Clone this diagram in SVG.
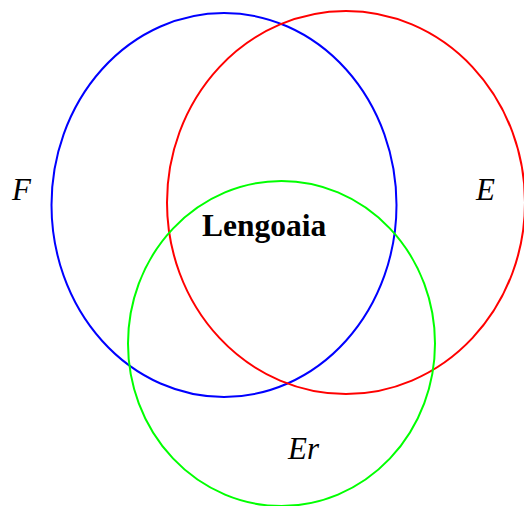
<svg xmlns="http://www.w3.org/2000/svg" width="524" height="506" viewBox="0 0 524 506">
<style>
.set{fill:none;stroke-width:2}
.lbl{font-family:"Liberation Serif","Times New Roman",serif;font-style:italic;font-size:31px;fill:#000}
.ctr{font-family:"Liberation Serif","Times New Roman",serif;font-weight:bold;font-size:31.5px;fill:#000}
</style>
<rect width="524" height="506" fill="#fff"/>
<g id="set-F">
<ellipse class="set" cx="224" cy="205" rx="172.5" ry="192" stroke="#0000ff"/>
<text class="lbl" x="12" y="200">F</text>
</g>
<g id="set-E">
<ellipse class="set" cx="346" cy="202.5" rx="179" ry="191.5" stroke="#ff0000"/>
<text class="lbl" x="476" y="200">E</text>
</g>
<g id="set-Er">
<ellipse class="set" cx="281.5" cy="343.5" rx="153.5" ry="162.5" stroke="#00ff00"/>
<text class="lbl" x="288" y="459">Er</text>
</g>
<g id="center">
<text class="ctr" x="202" y="236">Lengoaia</text>
</g>
</svg>
